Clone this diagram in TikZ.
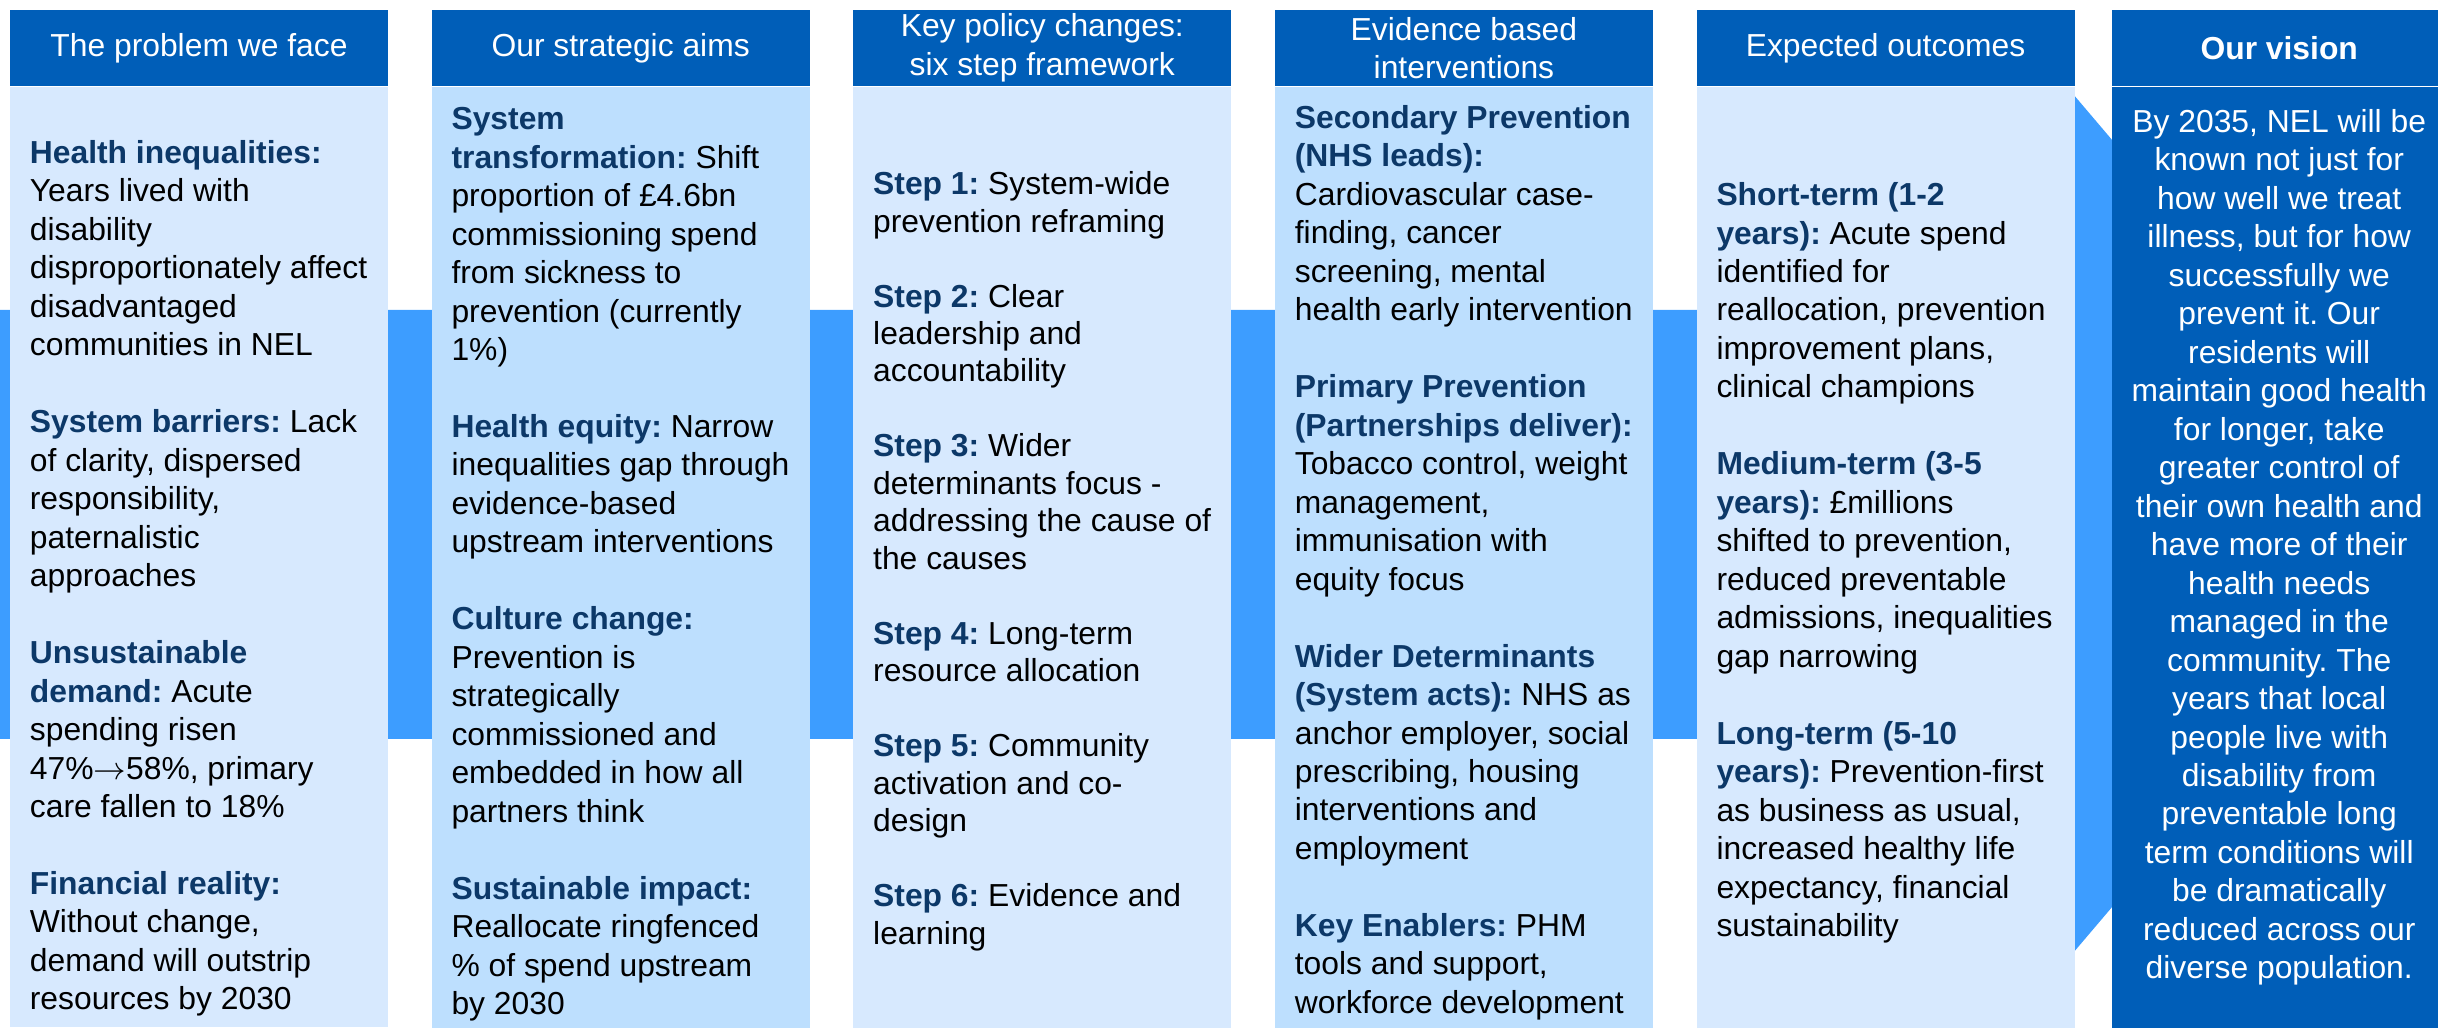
\documentclass[tikz,border=0pt]{standalone}
\usepackage{fontspec}
\setmainfont{Liberation Sans}
\usetikzlibrary{positioning}
\frenchspacing

\definecolor{nhsblue}{HTML}{005EB8}
\definecolor{flowblue}{HTML}{3D9DFF}
\definecolor{paleblue}{HTML}{D7E9FE}
\definecolor{softblue}{HTML}{BDDFFE}
\definecolor{navy}{HTML}{0C3868}

\newcommand{\keyterm}[1]{\textcolor{navy}{\textbf{#1}}}

\begin{document}
\begin{tikzpicture}[x=0.01cm, y=-0.01cm,
    font=\fontsize{9.05pt}{10.94pt}\selectfont,
    head/.style={fill=nhsblue, text=white, minimum width=3.78cm, minimum height=0.76cm, inner sep=0pt, align=center},
    panel/.style={minimum width=3.78cm, minimum height=9.43cm, inner sep=0pt},
    txt/.style={align=left, inner sep=0pt}]
  \useasboundingbox (0,0) rectangle (2438,1028);

  % flow arrow running behind the columns
  \fill[flowblue] (0,310) -- (2073,310) -- (2073,94) -- (2438,523.5)
    -- (2073,953) -- (2073,739) -- (0,739) -- cycle;

  % column headers
  \node[head] (h1) at (199,48) {The problem we face};
  \node[head, right=0.42cm of h1] (h2) {Our strategic aims};
  \node[head, right=0.42cm of h2] (h3) {Key policy changes:\\six step framework};
  \node[head, right=0.42cm of h3] (h4) {Evidence based\\interventions};
  \node[head, right=0.42cm of h4] (h5) {Expected outcomes};
  \node[head, minimum width=3.34cm, right=0.36cm of h5] (hv) {\textbf{Our vision}};

  % column bodies
  \node[panel, fill=paleblue, minimum height=9.39cm, below=0pt of h1] (p1) {};
  \node[panel, fill=softblue, below=0pt of h2] (p2) {};
  \node[panel, fill=paleblue, below=0pt of h3] (p3) {};
  \node[panel, fill=softblue, below=0pt of h4] (p4) {};
  \node[panel, fill=paleblue, below=0pt of h5] (p5) {};
  \node[panel, fill=nhsblue, minimum width=3.34cm, below=0pt of hv] (pv) {};

  % the problem
  \node[txt, below right=0.53cm and 0.2cm of p1.north west] (t1) {%
    \keyterm{Health inequalities:}\\
    Years lived with\\
    disability\\
    disproportionately affect\\
    disadvantaged\\
    communities in NEL\\[10.94pt]
    \keyterm{System barriers:} Lack\\
    of clarity, dispersed\\
    responsibility,\\
    paternalistic\\
    approaches\\[10.94pt]
    \keyterm{Unsustainable}\\
    \keyterm{demand:} Acute\\
    spending risen\\
    47\%$\rightarrow$58\%, primary\\
    care fallen to 18\%\\[10.94pt]
    \keyterm{Financial reality:}\\
    Without change,\\
    demand will outstrip\\
    resources by 2030};

  % strategic aims
  \node[txt, below right=0.2cm and 0.2cm of p2.north west] (t2) {%
    \keyterm{System}\\
    \keyterm{transformation:} Shift\\
    proportion of £4.6bn\\
    commissioning spend\\
    from sickness to\\
    prevention (currently\\
    1\%)\\[10.94pt]
    \keyterm{Health equity:} Narrow\\
    inequalities gap through\\
    evidence-based\\
    upstream interventions\\[10.94pt]
    \keyterm{Culture change:}\\
    Prevention is\\
    strategically\\
    commissioned and\\
    embedded in how all\\
    partners think\\[10.94pt]
    \keyterm{Sustainable impact:}\\
    Reallocate ringfenced\\
    \% of spend upstream\\
    by 2030};

  % six steps (slightly tighter lines)
  \node[txt, font=\fontsize{9.05pt}{10.66pt}\selectfont,
        below right=0.84cm and 0.2cm of p3.north west] (t3) {%
    \keyterm{Step 1:} System-wide\\
    prevention reframing\\[10.66pt]
    \keyterm{Step 2:} Clear\\
    leadership and\\
    accountability\\[10.66pt]
    \keyterm{Step 3:} Wider\\
    determinants focus -\\
    addressing the cause of\\
    the causes\\[10.66pt]
    \keyterm{Step 4:} Long-term\\
    resource allocation\\[10.66pt]
    \keyterm{Step 5:} Community\\
    activation and co-\\
    design\\[10.66pt]
    \keyterm{Step 6:} Evidence and\\
    learning};

  % interventions
  \node[txt, below right=0.18cm and 0.2cm of p4.north west] (t4) {%
    \keyterm{Secondary Prevention}\\
    \keyterm{(NHS leads):}\\
    Cardiovascular case-\\
    finding, cancer\\
    screening, mental\\
    health early intervention\\[10.94pt]
    \keyterm{Primary Prevention}\\
    \keyterm{(Partnerships deliver):}\\
    Tobacco control, weight\\
    management,\\
    immunisation with\\
    equity focus\\[10.94pt]
    \keyterm{Wider Determinants}\\
    \keyterm{(System acts):} NHS as\\
    anchor employer, social\\
    prescribing, housing\\
    interventions and\\
    employment\\[10.94pt]
    \keyterm{Key Enablers:} PHM\\
    tools and support,\\
    workforce development};

  % outcomes
  \node[txt, below right=0.95cm and 0.2cm of p5.north west] (t5) {%
    \keyterm{Short-term (1-2}\\
    \keyterm{years):} Acute spend\\
    identified for\\
    reallocation, prevention\\
    improvement plans,\\
    clinical champions\\[10.94pt]
    \keyterm{Medium-term (3-5}\\
    \keyterm{years):} £millions\\
    shifted to prevention,\\
    reduced preventable\\
    admissions, inequalities\\
    gap narrowing\\[10.94pt]
    \keyterm{Long-term (5-10}\\
    \keyterm{years):} Prevention-first\\
    as business as usual,\\
    increased healthy life\\
    expectancy, financial\\
    sustainability};

  % vision statement
  \node[align=center, inner sep=0pt, text=white, below=0.22cm of pv.north] (tv) {%
    By 2035, NEL will be\\ known not just for\\ how well we treat\\
    illness, but for how\\ successfully we\\ prevent it. Our\\
    residents will\\ maintain good health\\ for longer, take\\
    greater control of\\ their own health and\\ have more of their\\
    health needs\\ managed in the\\ community. The\\
    years that local\\ people live with\\ disability from\\
    preventable long\\ term conditions will\\ be dramatically\\
    reduced across our\\ diverse population.};
\end{tikzpicture}
\end{document}
